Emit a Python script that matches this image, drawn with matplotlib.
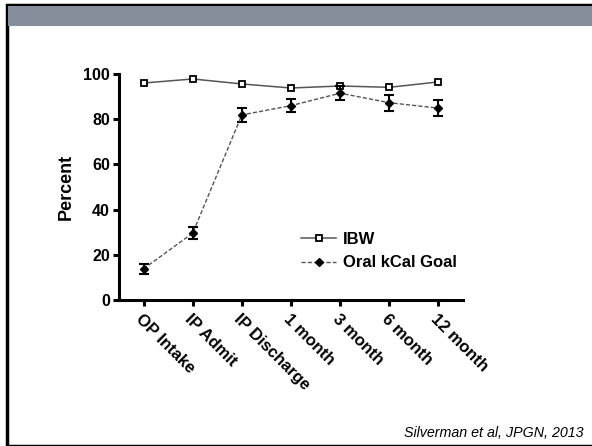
import matplotlib.pyplot as plt
import matplotlib.patches as pch
from matplotlib.lines import Line2D
import numpy as np

plt.rcParams['font.family'] = ['Liberation Sans', 'DejaVu Sans']

# data
categories = ['OP Intake', 'IP Admit', 'IP Discharge', '1 month', '3 month', '6 month', '12 month']
ibw = [96.0, 97.8, 95.6, 93.8, 94.7, 94.1, 96.5]
oral = [13.8, 29.6, 81.9, 86.0, 91.5, 87.3, 84.9]
oral_err = [2.3, 2.6, 3.0, 3.0, 3.1, 3.5, 3.7]

fig = plt.figure(figsize=(5.92, 4.46), dpi=100)

# slide frame and header band (behind the axes)
fig.patches.append(pch.Rectangle((7 / 592, 0), 1, 1 - 5 / 446, transform=fig.transFigure,
                                 facecolor='white', edgecolor='black', linewidth=2.5, zorder=-2))
fig.patches.append(pch.Rectangle((8 / 592, 1 - 26 / 446), 1, 20 / 446, transform=fig.transFigure,
                                 facecolor='#868e9b', edgecolor='none', zorder=-1))

ax = fig.add_axes([119 / 592, 1 - 300 / 446, (463 - 119) / 592, (300 - 74) / 446])
ax.patch.set_alpha(0)
x = np.arange(len(categories))

ax.plot(x, ibw, color='#555555', linewidth=1.1, marker='s', markersize=5,
        markerfacecolor='white', markeredgecolor='black', markeredgewidth=1.3,
        zorder=3)
ax.errorbar(x, oral, yerr=oral_err, color='#555555', linestyle='--', linewidth=1.0,
            dashes=(3, 1.5), marker='D', markersize=4.5, markerfacecolor='black',
            markeredgecolor='black', ecolor='black', elinewidth=1.5, capsize=3.7,
            capthick=1.5, zorder=4)

ax.set_xlim(-0.5, 6.5)
ax.set_ylim(0, 100)
ax.set_yticks([0, 20, 40, 60, 80, 100])
ax.set_xticks(x)
ax.set_xticklabels(categories, rotation=-45, ha='left', va='top',
                   rotation_mode='anchor', fontsize=12, fontweight='bold')
for lab in ax.get_yticklabels():
    lab.set_fontsize(11.5)
    lab.set_fontweight('bold')
ax.set_ylabel('Percent', fontsize=13, fontweight='bold', labelpad=6)

for s in ['top', 'right']:
    ax.spines[s].set_visible(False)
for s in ['left', 'bottom']:
    ax.spines[s].set_linewidth(2.2)
ax.tick_params(axis='both', width=2.2, length=4.5, direction='out', pad=2)
ax.tick_params(axis='x', pad=4)

handles = [Line2D([], [], color='#555555', linewidth=1.1, marker='s', markersize=5,
                  markerfacecolor='white', markeredgecolor='black', markeredgewidth=1.3),
           Line2D([], [], color='#555555', linewidth=1.0, linestyle='--', dashes=(3, 1.5),
                  marker='D', markersize=4.5, markerfacecolor='black', markeredgecolor='black')]
fig.legend(handles, ['IBW', 'Oral kCal Goal'], loc='upper left',
           bbox_to_anchor=(301 / 592, 1 - 232 / 446), frameon=False,
           prop={'weight': 'bold', 'size': 12}, handlelength=2.1,
           handletextpad=0.4, labelspacing=0.5, borderpad=0, borderaxespad=0)

fig.text(583 / 592, 1 - 433 / 446, 'Silverman et al, JPGN, 2013', ha='right', va='center',
         fontsize=10.3, style='italic')

plt.savefig('out.png', dpi=100)
